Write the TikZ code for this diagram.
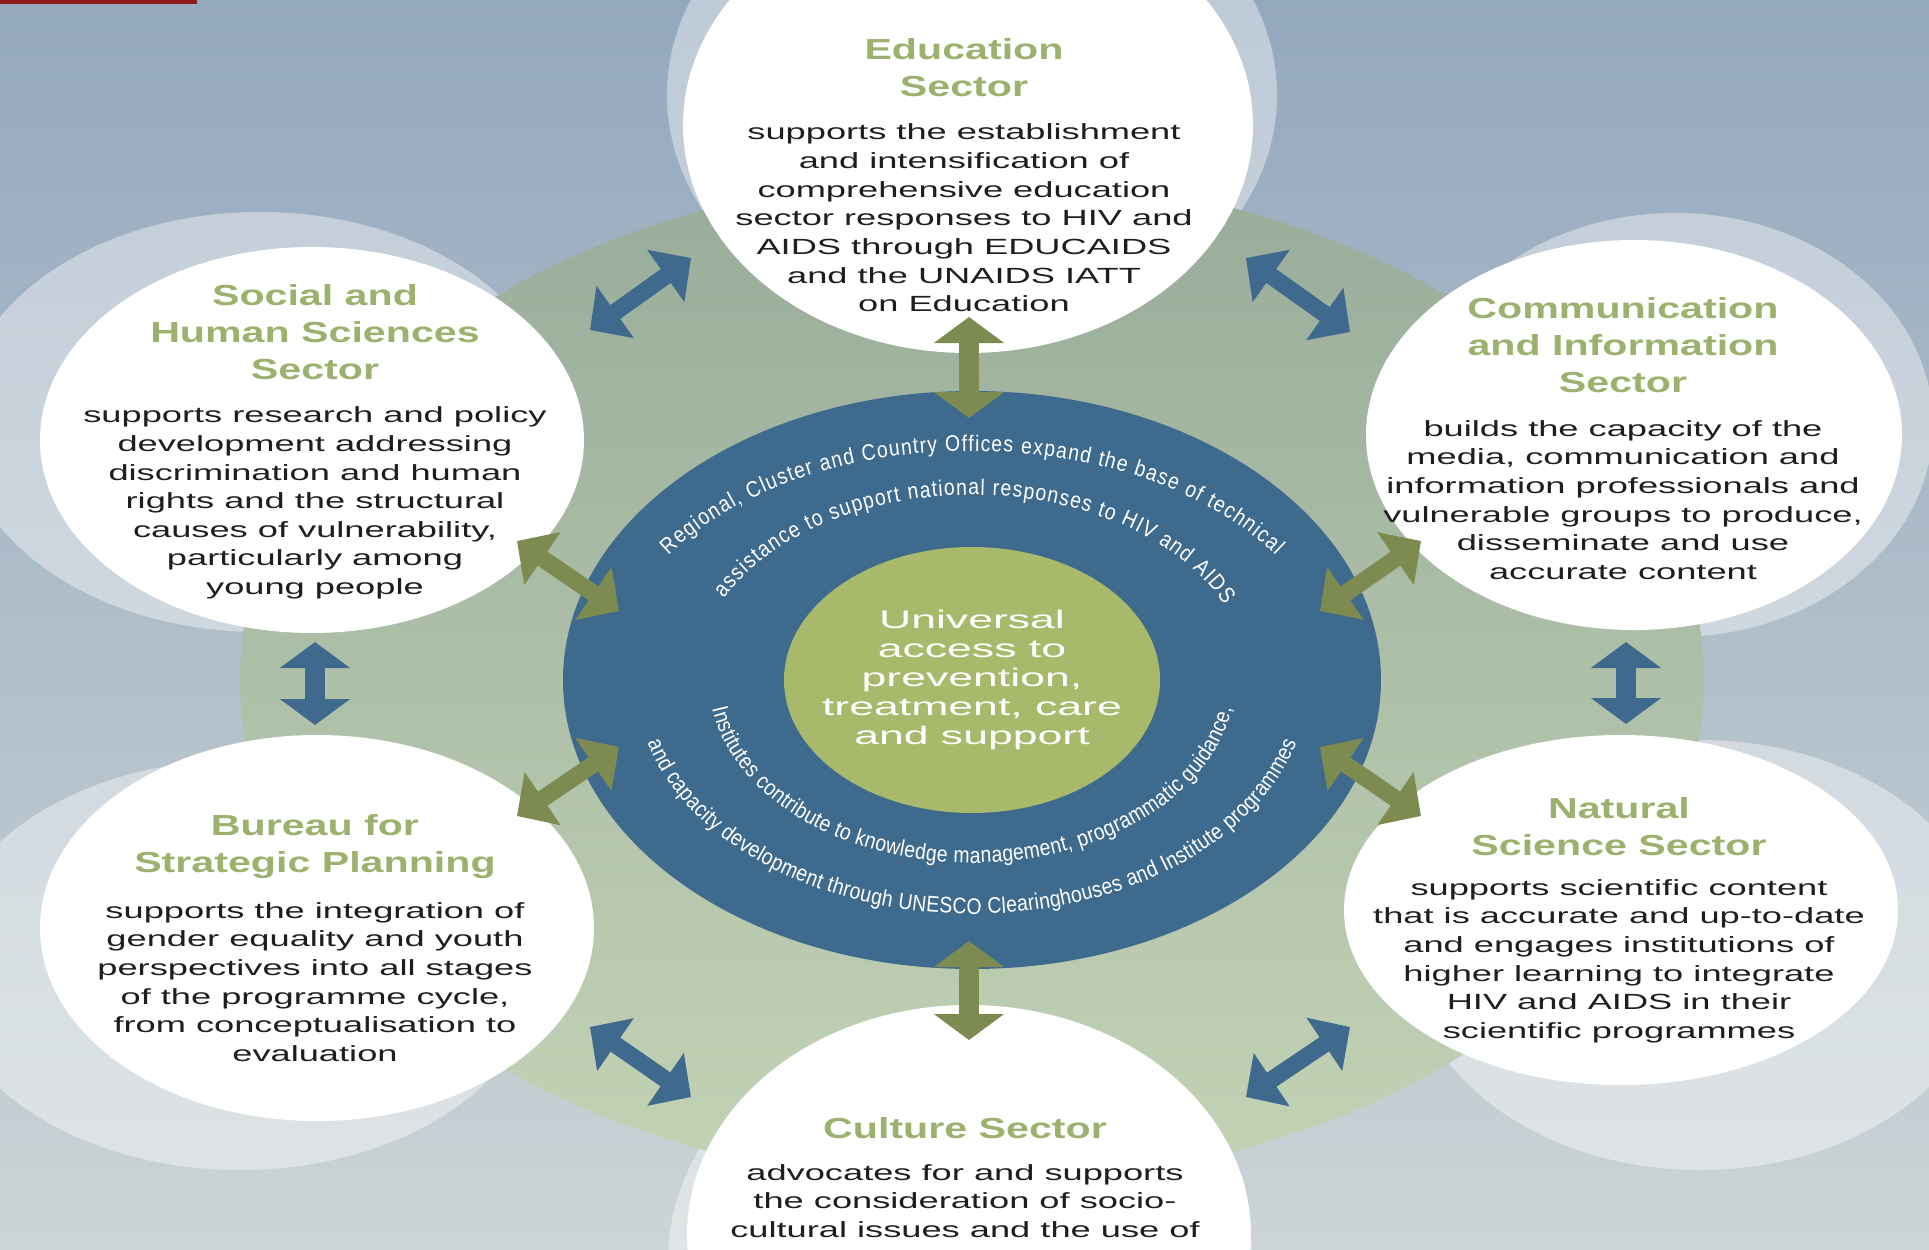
\documentclass[tikz,border=0pt]{standalone}
\usepackage{fontspec}
\usepackage{tikz}
\usetikzlibrary{arrows.meta,decorations.text}
\setmainfont{Liberation Sans}
\newfontfamily\bodyfont[FakeStretch=1.65]{Liberation Sans}
\newfontfamily\titlefont[FakeStretch=1.42]{Liberation Sans}
\newfontfamily\hubfont[FakeStretch=1.75]{Liberation Sans}
\newfontfamily\ringfont[FakeStretch=0.86]{Liberation Sans}
\definecolor{bgtop}{RGB}{148,168,190}
\definecolor{bgbottom}{RGB}{203,212,214}
\definecolor{fieldtop}{RGB}{152,172,154}
\definecolor{fieldbottom}{RGB}{195,211,181}
\definecolor{ringblue}{RGB}{62,106,141}
\definecolor{hubgreen}{RGB}{168,185,108}
\definecolor{olivearrow}{RGB}{125,139,80}
\definecolor{bluearrow}{RGB}{63,106,142}
\definecolor{titlegreen}{RGB}{157,177,111}
\definecolor{bodyblack}{RGB}{30,30,30}
\definecolor{unescored}{RGB}{142,27,27}

\tikzset{
  sectitle/.style={font=\titlefont\bfseries\fontsize{16.5}{21}\selectfont, text=titlegreen, align=center, inner sep=0pt},
  secbody/.style={font=\bodyfont\fontsize{12.5}{16.3}\selectfont, text=bodyblack, align=center, inner sep=0pt},
  hubtext/.style={font=\hubfont\fontsize{14.5}{16.5}\selectfont, text=white, align=center, inner sep=0pt},
  halo/.style={fill=white, fill opacity=0.4},
  vertlink/.style={line width=0.4cm, {Triangle[width=1.38cm,length=0.52cm]}-{Triangle[width=1.38cm,length=0.52cm]}},
  diaglink/.style={line width=0.34cm, {Triangle[width=1.25cm,length=0.62cm]}-{Triangle[width=1.25cm,length=0.62cm]}},
  ringtext/.style={decorate, decoration={text along path, text align=fit to path,
    text={|\ringfont\fontsize{12.8}{12.8}\selectfont\color{white}|#1}}},
}

\begin{document}
\begin{tikzpicture}[x=0.02cm, y=0.02cm, line cap=butt]
    \useasboundingbox (-972,-569) rectangle (957,680);
    \clip (-972,-569) rectangle (957,680);

    % backdrop
    \shade[top color=bgtop, bottom color=bgbottom] (-972,-569) rectangle (957,680);
    \fill[unescored] (-972,676) rectangle (-775,680);

    % light halos behind the sector discs
    \fill[halo] (0,585) ellipse [x radius=305, y radius=245];
    \fill[halo] (-712,258) ellipse [x radius=300, y radius=210];
    \fill[halo] (703,255) ellipse [x radius=258, y radius=212];
    \fill[halo] (-732,-285) ellipse [x radius=300, y radius=205];
    \fill[halo] (728,-275) ellipse [x radius=290, y radius=215];
    \fill[halo] (-12,-580) ellipse [x radius=292, y radius=245];

    % pale green field
    \shade[top color=fieldtop, bottom color=fieldbottom] (0,0) ellipse [x radius=732, y radius=505];

    % sector discs
    \fill[white] (-4,555) ellipse [x radius=285, y radius=228];
    \fill[white] (-660,240) ellipse [x radius=272, y radius=193];
    \fill[white] (662,245) ellipse [x radius=268, y radius=195];
    \fill[white] (-655,-248) ellipse [x radius=277, y radius=193];
    \fill[white] (649,-230) ellipse [x radius=277, y radius=175];
    \fill[white] (-3,-555) ellipse [x radius=282, y radius=230];

    % ring and hub
    \fill[ringblue] (0,0) ellipse [x radius=409, y radius=289];
    \fill[hubgreen] (0,0) ellipse [x radius=188, y radius=133];

    % texts along the ring
    \path[ringtext={Regional, Cluster and Country Offices expand the base of technical}]
      (147:362 and 229) arc [start angle=147, end angle=33, x radius=362, y radius=229];
    \path[ringtext={assistance to support national responses to HIV and AIDS}]
      (154:276 and 185) arc [start angle=154, end angle=24, x radius=276, y radius=185];
    \path[ringtext={Institutes contribute to knowledge management, programmatic guidance,}]
      (189:263 and 183) arc [start angle=189, end angle=351, x radius=263, y radius=183];
    \path[ringtext={and capacity development through UNESCO Clearinghouses and Institute programmes}]
      (195.6:337 and 234) arc [start angle=195.6, end angle=344.4, x radius=337, y radius=234];

    \node[hubtext] (hub) at (0,0) {Universal\\access to\\prevention,\\treatment, care\\and support};

    % arrow ends
    \coordinate (ring-n) at (-3,262);   \coordinate (edu-s) at (-3,363);
    \coordinate (ring-s) at (-3,-261);  \coordinate (cul-n) at (-3,-360);
    \coordinate (ring-nw) at (-353,69); \coordinate (soc-se) at (-455,139);
    \coordinate (ring-ne) at (348,69);  \coordinate (com-sw) at (449,139);
    \coordinate (ring-sw) at (-353,-67);\coordinate (bur-ne) at (-455,-136);
    \coordinate (ring-se) at (348,-67); \coordinate (nat-nw) at (449,-136);
    \coordinate (soc-ne) at (-382,350); \coordinate (edu-w) at (-281,422);
    \coordinate (edu-e) at (274,422);   \coordinate (com-nw) at (378,348);
    \coordinate (soc-s) at (-657,38);   \coordinate (bur-n) at (-657,-45);
    \coordinate (com-s) at (654,38);    \coordinate (nat-n) at (654,-44);
    \coordinate (bur-se) at (-382,-347);\coordinate (cul-w) at (-281,-417);
    \coordinate (cul-e) at (274,-417);  \coordinate (nat-sw) at (378,-347);

    % hub links
    \foreach \a/\b in {ring-n/edu-s, ring-s/cul-n}
      \draw[olivearrow, vertlink] (\a) -- (\b);
    \foreach \a/\b in {ring-nw/soc-se, ring-ne/com-sw, ring-sw/bur-ne, ring-se/nat-nw}
      \draw[olivearrow, diaglink] (\a) -- (\b);

    % links between sectors
    \foreach \a/\b in {soc-s/bur-n, com-s/nat-n}
      \draw[bluearrow, vertlink] (\a) -- (\b);
    \foreach \a/\b in {soc-ne/edu-w, edu-e/com-nw, bur-se/cul-w, cul-e/nat-sw}
      \draw[bluearrow, diaglink] (\a) -- (\b);

    % sector texts
    \node[sectitle] (edu-title) at (-8,612.5) {Education\\Sector};
    \node[secbody] (edu-body) at (-8,462) {supports the establishment\\and intensification of\\comprehensive education\\sector responses to HIV and\\AIDS through EDUCAIDS\\and the UNAIDS IATT\\on Education};

    \node[sectitle] (soc-title) at (-657,347.5) {Social and\\Human Sciences\\Sector};
    \node[secbody] (soc-body) at (-657,177) {supports research and policy\\development addressing\\discrimination and human\\rights and the structural\\causes of vulnerability,\\particularly among\\young people};

    \node[sectitle] (com-title) at (651,334.5) {Communication\\and Information\\Sector};
    \node[secbody] (com-body) at (651,180) {builds the capacity of the\\media, communication and\\information professionals and\\vulnerable groups to produce,\\disseminate and use\\accurate content};

    \node[sectitle] (bur-title) at (-657,-167) {Bureau for\\Strategic Planning};
    \node[secbody] (bur-body) at (-657,-302) {supports the integration of\\gender equality and youth\\perspectives into all stages\\of the programme cycle,\\from conceptualisation to\\evaluation};

    \node[sectitle] (nat-title) at (647,-146.5) {Natural\\Science Sector};
    \node[secbody] (nat-body) at (647,-281) {supports scientific content\\that is accurate and up-to-date\\and engages institutions of\\higher learning to integrate\\HIV and AIDS in their\\scientific programmes};

    \node[sectitle] (cul-title) at (-7,-448) {Culture Sector};
    \node[secbody] (cul-body) at (-7,-521) {advocates for and supports\\the consideration of socio-\\cultural issues and the use of};
\end{tikzpicture}
\end{document}
